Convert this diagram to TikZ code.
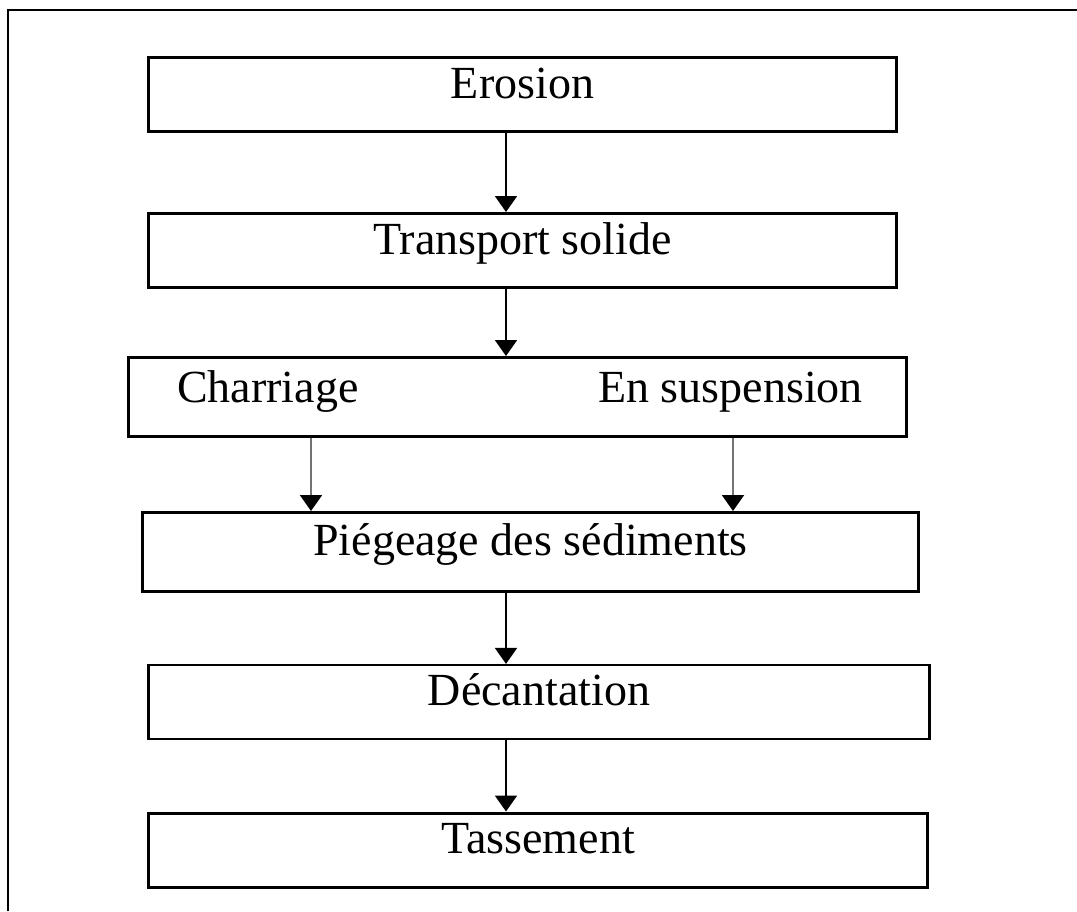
\documentclass[tikz,border=0pt]{standalone}
\usepackage{fontspec}
\setmainfont{Liberation Serif}
\usetikzlibrary{arrows.meta, positioning}

\begin{document}
\begin{tikzpicture}[
        x=1pt, y=-1pt,
        stage/.style={rectangle, draw, line width=3pt, inner sep=0pt, minimum height=74pt,
            text height=30pt, text depth=23pt, font=\fontsize{46}{55}\selectfont},
        word/.style={inner sep=0pt, font=\fontsize{46}{55}\selectfont},
        flow/.style={line width=2pt, -{Triangle[width=22pt, length=16pt]}},
        sideflow/.style={line width=2pt, draw=black!55, -{Triangle[width=22pt, length=16pt, color=black]}}
    ]
    \useasboundingbox (0,0) rectangle (1077,911);

    % outer frame (open at right and bottom)
    \coordinate (frame_bl) at (8,911);
    \coordinate (frame_tl) at (8,10);
    \coordinate (frame_tr) at (1077,10);
    \draw[line width=2.2pt] (frame_bl) -- (frame_tl) -- (frame_tr);

    % stages of the process
    \node[stage, minimum width=748pt] (erosion) at (522.5,94.5) {Erosion};
    \node[stage, minimum width=748pt] (transport) at (522.5,250.5) {Transport solide};
    \node[stage, minimum width=778pt, minimum height=79pt, text height=0pt, text depth=0pt] (modes) at (517.5,397) {};
    \node[word, anchor=base west] (charriage) at ([xshift=50pt, yshift=-5pt]modes.west) {Charriage};
    \node[word, anchor=base east] (suspension) at ([xshift=-45pt, yshift=-5pt]modes.east) {En suspension};
    \node[stage, minimum width=776pt, minimum height=79pt] (piegeage) at (530.5,552) {Piégeage des sédiments};
    \node[stage, line width=2.2pt, minimum width=781pt] (decantation) at (539,702) {Décantation};
    \node[stage, minimum width=779pt] (tassement) at (538,850) {Tassement};

    % arrow lines
    \coordinate (axis) at (506,0);
    \coordinate (axis_left) at (311,0);
    \coordinate (axis_right) at (733,0);

    \draw[flow] (erosion.south -| axis) -- (transport.north -| axis);
    \draw[flow] (transport.south -| axis) -- (modes.north -| axis);
    \draw[sideflow] (modes.south -| axis_left) -- (piegeage.north -| axis_left);
    \draw[sideflow] (modes.south -| axis_right) -- (piegeage.north -| axis_right);
    \draw[flow] (piegeage.south -| axis) -- (decantation.north -| axis);
    \draw[flow] (decantation.south -| axis) -- (tassement.north -| axis);
\end{tikzpicture}
\end{document}
